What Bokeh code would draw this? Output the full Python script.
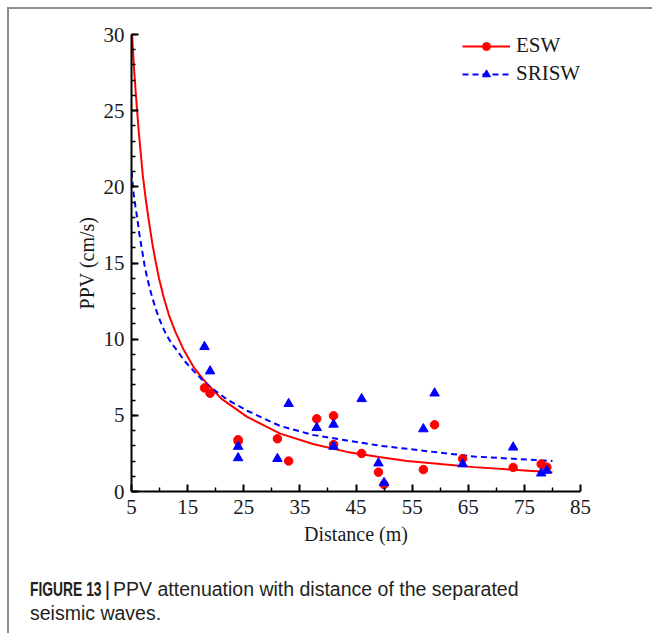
from bokeh.plotting import figure
from bokeh.models import Range1d, Legend, LegendItem, FixedTicker, Div
from bokeh.layouts import column
from bokeh.embed import file_html
from bokeh.resources import INLINE

# measured points
distance = [18, 19, 24, 24, 31, 33, 38, 41, 41, 46, 49, 50, 57, 59, 64, 73, 78, 79]
esw = [6.8, 6.45, 3.4, 3.3, 3.46, 2.0, 4.77, 4.97, 3.08, 2.5, 1.27, 0.46, 1.44, 4.38, 2.15, 1.58, 1.8, 1.6]
srisw = [9.5, 7.9, 2.95, 2.2, 2.15, 5.76, 4.18, 4.4, 2.95, 6.08, 1.86, 0.57, 4.1, 6.45, 1.8, 2.9, 1.2, 1.38]

# fitted curves
esw_fit_x = [5.1, 5.3, 5.5, 5.75, 6.0, 6.3, 6.6, 7.0, 7.5, 8.0, 8.7, 9.3, 9.9, 10.7, 11.65, 12.8, 14.3, 16.0, 17.9, 21, 25.6, 31.5, 37.5, 43.4, 49.4, 54.1, 60, 66, 73, 80]
esw_fit_y = [30, 28.7, 27.5, 26.2, 25.0, 23.6, 22.4, 20.8, 19.3, 18.0, 16.3, 15.1, 14.0, 12.8, 11.6, 10.5, 9.3, 8.2, 7.3, 6.1, 4.9, 3.8, 3.1, 2.6, 2.25, 2.0, 1.8, 1.6, 1.43, 1.27]
srisw_fit_x = [5.0, 5.2, 5.4, 5.7, 6.0, 6.4, 6.9, 7.3, 7.8, 8.5, 9.3, 10.1, 11.05, 12.0, 13.1, 14.5, 16.1, 18.5, 22, 25.6, 31.5, 37.5, 43.4, 49.4, 54.1, 60, 66, 73, 80]
srisw_fit_y = [21.0, 20.2, 19.5, 18.7, 18.0, 16.9, 15.8, 14.9, 14.0, 13.0, 12.0, 11.2, 10.4, 9.8, 9.26, 8.55, 7.9, 7.0, 6.05, 5.3, 4.3, 3.7, 3.35, 3.0, 2.8, 2.55, 2.3, 2.15, 2.0]

x_ticks = [5, 15, 25, 35, 45, 55, 65, 75, 85]
x_minor = [10, 20, 30, 40, 50, 60, 70, 80]
y_ticks = [0, 5, 10, 15, 20, 25, 30]
y_minor = list(range(0, 31))

caption_bold = "FIGURE 13 |"
caption_text = "PPV attenuation with distance of the separated"
caption_text2 = "seismic waves."

serif = "Liberation Serif"

p = figure(width=643, height=565, x_range=Range1d(5, 85), y_range=Range1d(0, 30),
           output_backend="svg", toolbar_location=None,
           min_border_left=122, min_border_right=72, min_border_top=25, min_border_bottom=83)
p.background_fill_color = "white"
p.border_fill_color = "white"
p.outline_line_color = None
p.xgrid.visible = False
p.ygrid.visible = False

for ax in (p.xaxis[0], p.yaxis[0]):
    ax.axis_line_width = 2
    ax.axis_line_color = "black"
    ax.major_tick_in = 7
    ax.major_tick_out = 0
    ax.minor_tick_in = 4
    ax.minor_tick_out = 0
    ax.major_tick_line_width = 2
    ax.minor_tick_line_width = 1.5
    ax.major_tick_line_color = "black"
    ax.minor_tick_line_color = "black"
    ax.major_label_text_font = serif
    ax.major_label_text_font_size = "21px"
    ax.major_label_text_color = "#1a1a1a"
    ax.axis_label_text_font = serif
    ax.axis_label_text_font_size = "20px"
    ax.axis_label_text_font_style = "normal"
    ax.axis_label_text_color = "#1a1a1a"

p.xaxis.ticker = FixedTicker(ticks=x_ticks, minor_ticks=x_minor)
p.yaxis.ticker = FixedTicker(ticks=y_ticks, minor_ticks=y_minor)
p.xaxis.axis_label = "Distance (m)"
p.yaxis.axis_label = "PPV (cm/s)"
p.xaxis.major_label_standoff = 8
p.xaxis.axis_label_standoff = 6
p.yaxis.major_label_standoff = 7
p.yaxis.axis_label_standoff = 3

red = "#ff0000"
blue = "#0000ff"

l1 = p.line(esw_fit_x, esw_fit_y, line_color=red, line_width=2)
l2 = p.line(srisw_fit_x, srisw_fit_y, line_color=blue, line_width=2, line_dash="6 4")
s1 = p.scatter(distance, esw, marker="circle", size=8.5, fill_color=red, line_color=red)
s2 = p.scatter(distance, srisw, marker="triangle", size=9.5, fill_color=blue, line_color=blue)

legend = Legend(items=[LegendItem(label="ESW", renderers=[l1, s1]),
                       LegendItem(label="SRISW", renderers=[l2, s2])],
                location=(331, 405), padding=0, margin=0, spacing=3,
                glyph_width=48, glyph_height=20, label_standoff=6,
                label_text_font=serif, label_text_font_size="21px",
                label_text_color="#1a1a1a",
                border_line_color=None, background_fill_alpha=0)
p.add_layout(legend)

cap_html = (
    '<div style="font-family: \'Liberation Sans\', Arial, sans-serif; font-size: 19.5px; '
    'line-height: 24px; color: #231f20; padding: 0 0 0 16px; position: relative; top: -2px; '
    'white-space: nowrap;">'
    '<span style="display: inline-block; font-weight: bold; transform: scaleX(0.71); '
    'transform-origin: left center; margin-right: -34px;">' + caption_bold + '</span> '
    + caption_text + '<br>' + caption_text2 + '</div>'
)
caption = Div(text=cap_html, width=643, height=59)

layout = column(p, caption, spacing=0, margin=(7, 0, 0, 7),
                styles={"border-top": "2px solid #8c8c8c", "border-left": "2px solid #8c8c8c",
                        "background-color": "white"})

open("out.html", "w").write(file_html(layout, INLINE))
